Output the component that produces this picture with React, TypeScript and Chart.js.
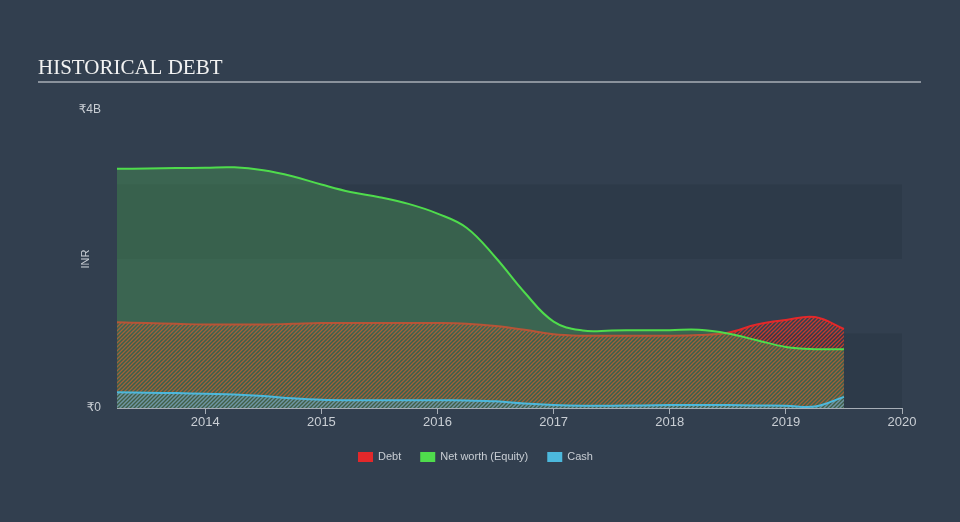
import React, { useEffect, useRef } from "react";
import { Chart, registerables } from "chart.js";

Chart.register(...registerables);

const years: number[] = [2013.24, 2013.5, 2013.75, 2014.0, 2014.25, 2014.5, 2014.75, 2015.0, 2015.25, 2015.5, 2015.75, 2016.0, 2016.25, 2016.5, 2016.75, 2017.0, 2017.25, 2017.5, 2017.75, 2018.0, 2018.25, 2018.5, 2018.75, 2019.0, 2019.25, 2019.5];
const debt: number[] = [1.15, 1.14, 1.13, 1.12, 1.12, 1.12, 1.13, 1.14, 1.14, 1.14, 1.14, 1.14, 1.13, 1.1, 1.05, 0.99, 0.97, 0.97, 0.97, 0.97, 0.98, 1.01, 1.12, 1.18, 1.22, 1.06];
const equity: number[] = [3.21, 3.215, 3.22, 3.225, 3.23, 3.19, 3.11, 3.0, 2.9, 2.83, 2.74, 2.61, 2.42, 2.02, 1.55, 1.16, 1.04, 1.04, 1.045, 1.045, 1.05, 1.0, 0.91, 0.82, 0.79, 0.79];
const cash: number[] = [0.21, 0.205, 0.2, 0.19, 0.18, 0.16, 0.13, 0.11, 0.105, 0.105, 0.105, 0.105, 0.1, 0.09, 0.06, 0.04, 0.03, 0.03, 0.035, 0.04, 0.04, 0.04, 0.035, 0.03, 0.02, 0.15];
const xTicks: number[] = [2014, 2015, 2016, 2017, 2018, 2019, 2020];
const yTicks: number[] = [0, 4e9];
const yTickLabels: string[] = ["₹0", "₹4B"];
const legendItems: { label: string; color: string }[] = [
  { label: "Debt", color: "#e3282a" },
  { label: "Net worth (Equity)", color: "#4fdc4c" },
  { label: "Cash", color: "#4cb8dc" },
];

const BG = "#323f4f";
const BAND = "#2d3a49";
const TEXT = "#c9ced4";
const AXIS = "#a7aeb6";

function hatch(ctx: CanvasRenderingContext2D, color: string) {
  const c = document.createElement("canvas");
  c.width = 4;
  c.height = 4;
  const g = c.getContext("2d")!;
  g.strokeStyle = color;
  g.lineWidth = 1.3;
  g.beginPath();
  g.moveTo(-1, 1);
  g.lineTo(1, -1);
  g.moveTo(0, 4);
  g.lineTo(4, 0);
  g.moveTo(3, 5);
  g.lineTo(5, 3);
  g.stroke();
  return ctx.createPattern(c, "repeat")!;
}

const toPts = (vals: number[]) => vals.map((v, i) => ({ x: years[i], y: v * 1e9 }));

export default function App() {
  const ref = useRef<HTMLCanvasElement>(null);
  useEffect(() => {
    const canvas = ref.current!;
    const ctx = canvas.getContext("2d")!;
    const decor = {
      id: "decor",
      beforeDraw(chart: any) {
        const c = chart.ctx;
        const { left, right } = chart.chartArea;
        const y = chart.scales.y;
        c.save();
        c.fillStyle = BG;
        c.fillRect(0, 0, chart.width, chart.height);
        c.fillStyle = BAND;
        for (const [a, b] of [[0, 1e9], [2e9, 3e9]]) {
          const ya = y.getPixelForValue(a);
          const yb = y.getPixelForValue(b);
          c.fillRect(left, yb, right - left, ya - yb);
        }
        c.fillStyle = "#f2f2f2";
        c.font = '21px "Liberation Serif", "Times New Roman", serif';
        c.textBaseline = "alphabetic";
        c.textAlign = "left";
        c.fillText("HISTORICAL DEBT", 38, 74);
        c.strokeStyle = "#a9afb6";
        c.lineWidth = 1.5;
        c.beginPath();
        c.moveTo(38, 82);
        c.lineTo(921, 82);
        c.stroke();
        c.translate(86, (y.top + y.bottom) / 2);
        c.rotate(-Math.PI / 2);
        c.fillStyle = TEXT;
        c.font = '11px "Liberation Sans", Arial, sans-serif';
        c.textAlign = "center";
        c.textBaseline = "middle";
        c.fillText("INR", 0, 0);
        c.restore();
      },
      afterDraw(chart: any) {
        const c = chart.ctx;
        c.save();
        c.font = '11px "Liberation Sans", Arial, sans-serif';
        c.textBaseline = "middle";
        c.textAlign = "left";
        let x = 358;
        const yy = 457;
        for (const it of legendItems) {
          c.fillStyle = it.color;
          c.fillRect(x, yy - 5, 15, 10);
          c.fillStyle = TEXT;
          c.fillText(it.label, x + 20, yy);
          x += 20 + c.measureText(it.label).width + 19;
        }
        c.restore();
      },
    };
    const common = { borderWidth: 2, pointRadius: 0, tension: 0.4, fill: "origin" as const };
    const chart = new Chart(ctx, {
      type: "line",
      data: {
        datasets: [
          {
            ...common,
            label: "Debt",
            data: toPts(debt),
            borderColor: "#e3282a",
            backgroundColor: hatch(ctx, "rgba(222,58,40,0.85)"),
            order: 3,
          },
          {
            ...common,
            label: "Net worth (Equity)",
            data: toPts(equity),
            borderColor: "#4fdc4c",
            backgroundColor: "rgba(84,190,86,0.3)",
            order: 2,
          },
          {
            ...common,
            label: "Cash",
            data: toPts(cash),
            borderColor: "#4cb8dc",
            backgroundColor: hatch(ctx, "rgba(80,175,215,0.7)"),
            order: 1,
          },
        ],
      },
      options: {
        animation: false,
        responsive: false,
        layout: { padding: { top: 110, right: 58, left: 0, bottom: 0 } },
        plugins: { legend: { display: false }, tooltip: { enabled: false } },
        scales: {
          x: {
            type: "linear",
            min: years[0],
            max: 2020,
            afterBuildTicks: (s: any) => {
              s.ticks = xTicks.map((v) => ({ value: v }));
            },
            afterFit: (s: any) => {
              s.height = 114;
            },
            grid: { display: true, drawOnChartArea: false, drawTicks: true, tickLength: 6, color: AXIS },
            border: { display: true, color: AXIS, width: 1 },
            ticks: {
              color: TEXT,
              font: { family: '"Liberation Sans", Arial, sans-serif', size: 13 },
              padding: 1,
              maxRotation: 0,
              autoSkip: false,
              callback: (v: any) => String(v),
            },
          },
          y: {
            min: 0,
            max: 4e9,
            afterBuildTicks: (s: any) => {
              s.ticks = yTicks.map((v) => ({ value: v }));
            },
            afterFit: (s: any) => {
              s.width = 117;
            },
            grid: { display: false, drawTicks: false },
            border: { display: false },
            ticks: {
              color: TEXT,
              font: { family: '"Liberation Sans", "DejaVu Sans", Arial, sans-serif', size: 12 },
              padding: 16,
              callback: (v: any) => yTickLabels[yTicks.indexOf(Number(v))] ?? "",
            },
          },
        },
      },
      plugins: [decor],
    });
    return () => chart.destroy();
  }, []);
  return (
    <div style={{ position: "absolute", left: 0, top: 0, width: 960, height: 522 }}>
      <canvas ref={ref} width={960} height={522} style={{ width: 960, height: 522, display: "block" }} />
    </div>
  );
}
